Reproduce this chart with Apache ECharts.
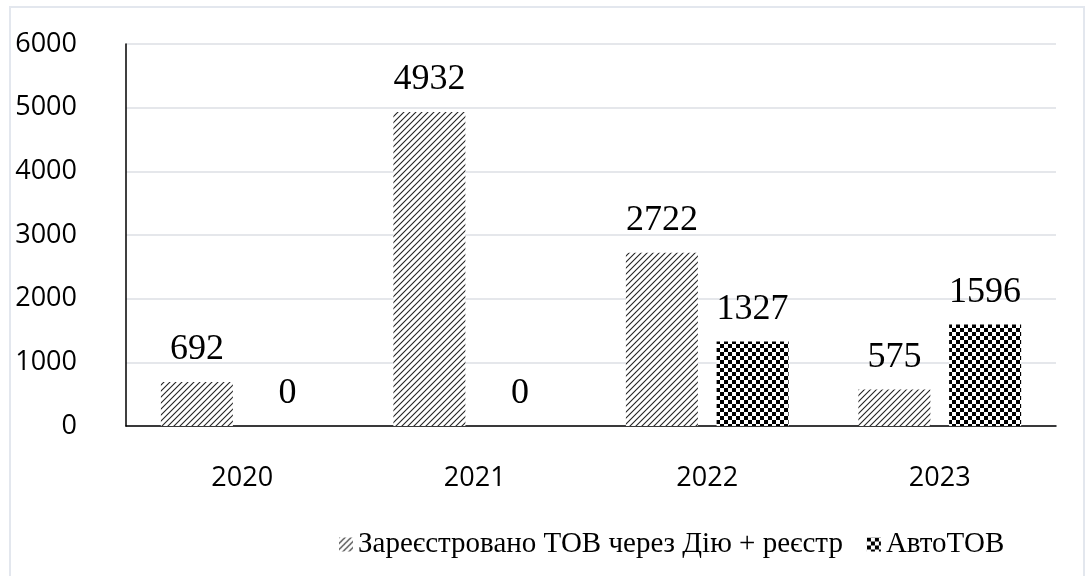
<!DOCTYPE html>
<html>
<head>
<meta charset="utf-8">
<script src="https://cdn.jsdelivr.net/npm/echarts@6/dist/echarts.min.js"></script>
<style>
html,body{margin:0;padding:0;background:#fff;}
#frame{position:absolute;left:9px;top:6px;width:1076px;height:600px;border:2px solid #e3e7ee;box-sizing:border-box;}
#chart{position:absolute;left:0;top:0;width:1087px;height:576px;}
</style>
</head>
<body>
<div id="frame"></div>
<div id="chart"></div>
<script>
const categories = ['2020', '2021', '2022', '2023'];
const seriesNames = ['Зареєстровано ТОВ через Дію + реєстр', 'АвтоТОВ'];
const registered = [692, 4932, 2722, 575];
const autoTov = [0, 0, 1327, 1596];
const yTicks = [0, 1000, 2000, 3000, 4000, 5000, 6000];

function hatch() {
  const c = document.createElement('canvas');
  c.width = 6; c.height = 6;
  const g = c.getContext('2d');
  g.fillStyle = '#fff'; g.fillRect(0, 0, 6, 6);
  g.strokeStyle = '#222'; g.lineWidth = 1.1;
  for (let k = -1; k <= 1; k++) {
    g.beginPath();
    g.moveTo(k * 6 - 1, 7);
    g.lineTo(k * 6 + 7, -1);
    g.stroke();
  }
  return c;
}
function checker() {
  const c = document.createElement('canvas');
  c.width = 8; c.height = 8;
  const g = c.getContext('2d');
  g.fillStyle = '#fff'; g.fillRect(0, 0, 8, 8);
  g.fillStyle = '#000';
  g.fillRect(0, 0, 4, 4); g.fillRect(4, 4, 4, 4);
  return c;
}

const chart = echarts.init(document.getElementById('chart'));
const labelStyle = {
  show: true, position: 'top', distance: 14,
  fontFamily: 'Liberation Serif', fontSize: 36, color: '#000'
};
chart.setOption({
  animation: false,
  grid: { left: 126, right: 31, top: 44, bottom: 150 },
  legend: {
    bottom: 12, left: 334,
    itemWidth: 14, itemHeight: 14, itemGap: 24,
    icon: 'rect',
    textStyle: { fontFamily: 'Liberation Serif', fontSize: 29, color: '#000' },
    data: seriesNames
  },
  xAxis: {
    type: 'category', data: categories,
    axisLine: { lineStyle: { color: '#000', width: 1.5 } },
    axisTick: { show: false },
    axisLabel: { fontFamily: 'Open Sans', fontSize: 27, color: '#000', margin: 39 }
  },
  yAxis: {
    type: 'value', min: yTicks[0], max: yTicks[yTicks.length - 1], interval: 1000,
    axisLine: { show: true, lineStyle: { color: '#000', width: 1.5 } },
    axisTick: { show: false },
    splitLine: { lineStyle: { color: '#dcdfe4', width: 1.5 } },
    axisLabel: { fontFamily: 'Open Sans', fontSize: 27, color: '#000', margin: 49,
      formatter: v => String(v) }
  },
  series: [
    {
      name: seriesNames[0], type: 'bar', data: registered,
      barCategoryGap: '30%', barGap: '26%',
      itemStyle: { color: { image: hatch(), repeat: 'repeat' } },
      label: labelStyle
    },
    {
      name: seriesNames[1], type: 'bar', data: autoTov,
      itemStyle: { color: { image: checker(), repeat: 'repeat' } },
      label: labelStyle
    }
  ]
});
</script>
</body>
</html>
